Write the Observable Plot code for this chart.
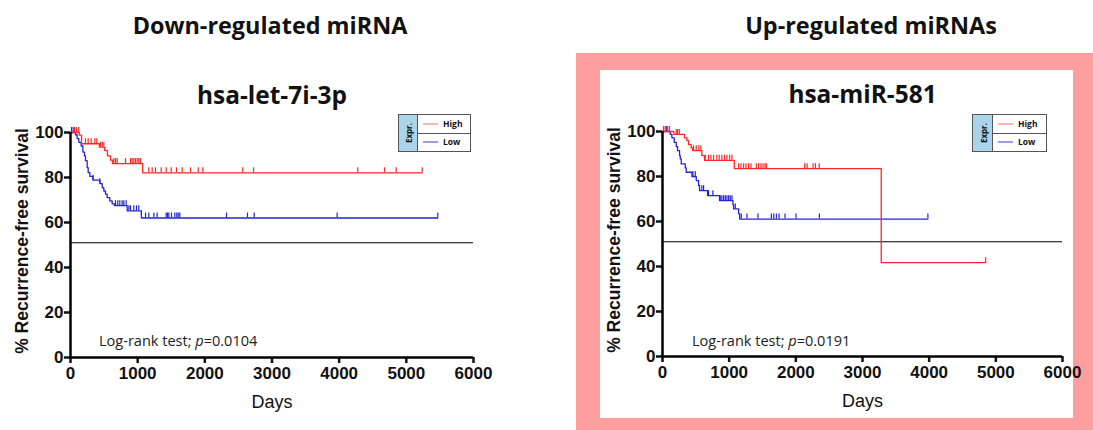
<!DOCTYPE html>
<html><head><meta charset="utf-8">
<script src="https://cdn.jsdelivr.net/npm/d3@7"></script>
<script src="https://cdn.jsdelivr.net/npm/@observablehq/plot@0.6"></script>
<style>
body{margin:0;background:#fff;}
#wrap{position:relative;width:1093px;height:430px;overflow:hidden;font-family:"Open Sans",sans-serif;color:#111;}
.abs{position:absolute;}
.ctr{position:absolute;white-space:nowrap;transform:translate(-50%,-50%);line-height:1;}
.plot{position:absolute;top:0;}
.legend{position:absolute;background:#fff;border:1.3px solid #555;box-sizing:border-box;font-family:"Open Sans",sans-serif;font-weight:700;font-size:8.5px;}
</style></head><body><div id="wrap"></div>
<script>
// ---------- data ----------
const panelTitles = ["Down-regulated miRNA", "Up-regulated miRNAs"];
const geneNames = ["hsa-let-7i-3p", "hsa-miR-581"];
const pValues = ["0.0104", "0.0191"];
const legendTitle = "Expr.";
const groupNames = ["High", "Low"];
const yLabel = "% Recurrence-free survival";
const xLabel = "Days";
const xTicks = [0, 1000, 2000, 3000, 4000, 5000, 6000];
const yTicks = [0, 20, 40, 60, 80, 100];
const referenceLine = 51;

// left panel: hsa-let-7i-3p
const leftHighTimes = [0, 130, 164, 430, 510, 550, 596, 625, 1075, 5236];
const leftHighSurv  = [100, 98.8, 95, 93.5, 92, 89.6, 87.7, 86.2, 82.1, 82.1];
const leftHighCensor = [60, 89, 124, 223, 263, 308, 362, 391, 447, 472, 496, 645, 670, 695, 819, 893, 918, 943, 968, 993, 1018, 1042,
  1166, 1216, 1266, 1350, 1425, 1499, 1578, 1663, 1787, 1902, 1970, 2565, 2725, 4277, 4675, 4849, 5236];
const leftLowTimes = [0, 74, 99, 124, 159, 184, 208, 223, 248, 263, 288, 333, 437, 472, 496, 521, 546, 585, 620, 655, 844, 1055, 5468];
const leftLowSurv  = [100, 99, 97.3, 95.6, 94, 91.3, 89.6, 87.5, 84.4, 82.2, 80.5, 78.8, 77.3, 75.5, 74, 72.6, 71.1, 69.6, 68.3, 67.5, 65.2, 62, 62];
const leftLowCensor = [15, 40, 337, 437, 670, 704, 734, 769, 794, 829, 869, 893, 943, 983, 1017,
  1117, 1166, 1241, 1290, 1424, 1444, 1464, 1504, 1553, 1583, 1603, 1627, 2323, 2635, 2735, 3970, 5468];

// right panel: hsa-miR-581
const rightHighTimes = [0, 170, 330, 366, 391, 431, 451, 591, 631, 1077, 3281, 4848];
const rightHighSurv  = [100, 98.7, 97.2, 96, 94.2, 92.7, 91.5, 89.3, 87.2, 83.5, 41.7, 41.7];
const rightHighCensor = [15, 41, 75, 105, 206, 226, 251, 466, 506, 546, 576, 641, 691, 726, 766, 816, 851, 891, 931, 967, 1007, 1042,
  1142, 1177, 1217, 1252, 1292, 1327, 1407, 1442, 1478, 1508, 1538, 1558, 2133, 2169, 2259, 2294, 2350, 4848];
const rightLowTimes = [0, 116, 141, 176, 206, 226, 256, 266, 281, 341, 356, 441, 506, 541, 556, 676, 856, 1057, 1067, 1142, 1157, 3981];
const rightLowSurv  = [100, 98.7, 97.2, 95.2, 93.3, 91.5, 89.3, 87.8, 85.6, 83.8, 81.9, 80, 78.2, 76, 73.7, 71.5, 69.3, 67.5, 65.6, 63.4, 61.1, 61.1];
const rightLowCensor = [56, 75, 456, 491, 591, 616, 691, 756, 866, 891, 917, 942, 967, 992, 1017, 1042, 1092,
  1182, 1267, 1432, 1633, 1668, 1708, 1748, 1838, 2003, 2353, 3981];

const red = "#ff2626", blue = "#2323dc";

// ---------- helpers ----------
const canvas = document.createElement("canvas").getContext("2d");
function fitSize(text, family, weight, target, style = "normal") {
  canvas.font = `${style} ${weight} 100px ${family}`;
  return 100 * target / canvas.measureText(text).width;
}
function survAt(times, surv, t) {
  let s = surv[0];
  for (let i = 0; i < times.length; i++) if (times[i] <= t) s = surv[i];
  return s;
}

function km({width, ml, mr, mt, mb, name, nameSize, high, low}) {
  const hd = high.times.map((t, i) => ({t, s: high.surv[i]}));
  const ld = low.times.map((t, i) => ({t, s: low.surv[i]}));
  const hc = high.censor.map(t => ({t, s: survAt(high.times, high.surv, t)}));
  const lc = low.censor.map(t => ({t, s: survAt(low.times, low.surv, t)}));
  return Plot.plot({
    width, height: 430, marginLeft: ml, marginRight: mr, marginTop: mt, marginBottom: mb,
    x: {domain: [0, 6000]},
    y: {domain: [0, 100]},
    style: {background: "transparent", fontFamily: "'Liberation Sans Narrow', 'Liberation Sans', sans-serif",
            fontSize: "17px", fontWeight: "bold", color: "#111", overflow: "visible"},
    marks: [
      Plot.ruleY([referenceLine], {stroke: "#000", strokeWidth: 1.2}),
      Plot.line(ld, {x: "t", y: "s", curve: "step-after", stroke: blue, strokeWidth: 1.3}),
      Plot.ruleX(lc, {x: "t", y1: "s", y2: d => d.s + 2.2, stroke: blue, strokeWidth: 1.2}),
      Plot.line(hd, {x: "t", y: "s", curve: "step-after", stroke: red, strokeWidth: 1.3}),
      Plot.ruleX(hc, {x: "t", y1: "s", y2: d => d.s + 2.2, stroke: red, strokeWidth: 1.2}),
      Plot.axisY({ticks: yTicks, tickSize: 6, tickPadding: 1, strokeWidth: 2.5, label: null}),
      Plot.axisX({ticks: xTicks, tickSize: 6, tickPadding: 3, strokeWidth: 2.5, label: null, tickFormat: d => String(d)}),
      Plot.ruleX([0], {stroke: "#000", strokeWidth: 2.5}),
      Plot.ruleY([0], {stroke: "#000", strokeWidth: 2.5}),
      Plot.text([yLabel], {text: d => d, frameAnchor: "left", textAnchor: "middle", dx: -48, dy: -4, rotate: -90, lineAnchor: "middle",
        fontSize: 17.5, fontFamily: "'Liberation Sans', Arial, sans-serif", fontWeight: "bold", fill: "#111"}),
      Plot.text([xLabel], {text: d => d, frameAnchor: "bottom", dy: 45, lineAnchor: "middle",
        fontSize: 18, fontFamily: "'Liberation Sans', Arial, sans-serif", fontWeight: "normal", fill: "#111"}),
      Plot.text([name], {text: d => d, frameAnchor: "top", dy: -36, lineAnchor: "middle",
        fontSize: nameSize, fontFamily: "'Open Sans', sans-serif", fontWeight: "bold", fill: "#111"})
    ]
  });
}

const wrap = document.getElementById("wrap");
function addDiv(cls, css, html) {
  const d = document.createElement("div");
  d.className = cls; d.style.cssText = css; if (html != null) d.innerHTML = html;
  wrap.appendChild(d); return d;
}

// pink frame for right panel
addDiv("abs", "left:576px;top:53px;width:517px;height:377px;background:#ff9e9e;");
addDiv("abs", "left:600px;top:70px;width:473px;height:348px;background:#fff;");

// main titles
const titleFont = "'Open Sans', sans-serif";
const t1 = fitSize(panelTitles[0], titleFont, 700, 275);
addDiv("ctr", `left:270px;top:26px;font-size:${t1}px;font-weight:700;`, panelTitles[0]);
addDiv("ctr", `left:871px;top:26px;font-size:${t1}px;font-weight:700;`, panelTitles[1]);

const nameSize = fitSize(geneNames[0], titleFont, 700, 150);

const left = km({width: 540, ml: 70, mr: 67, mt: 132, mb: 73, name: geneNames[0], nameSize,
  high: {times: leftHighTimes, surv: leftHighSurv, censor: leftHighCensor},
  low: {times: leftLowTimes, surv: leftLowSurv, censor: leftLowCensor}});
left.classList.add("plot"); left.style.left = "0px";
wrap.appendChild(left);

const right = km({width: 513, ml: 82, mr: 31, mt: 131, mb: 74, name: geneNames[1], nameSize,
  high: {times: rightHighTimes, surv: rightHighSurv, censor: rightHighCensor},
  low: {times: rightLowTimes, surv: rightLowSurv, censor: rightLowCensor}});
right.classList.add("plot"); right.style.left = "580px";
wrap.appendChild(right);

// log-rank annotations
const lrText = "Log-rank test; p=" + pValues[0];
const lrSize = fitSize(lrText, "'Open Sans', sans-serif", 400, 159);
[[99, pValues[0]], [692, pValues[1]]].forEach(([x, p]) => {
  addDiv("abs", `left:${x}px;top:${341 - lrSize * 0.68}px;font-size:${lrSize}px;line-height:1.36;white-space:nowrap;color:#222;`,
    `Log-rank test; <i>p</i>=${p}`);
});

// legends
function legend(x, y, w, h, cw) {
  const box = addDiv("legend", `left:${x}px;top:${y}px;width:${w}px;height:${h}px;`);
  const cell = document.createElement("div");
  cell.style.cssText = `position:absolute;left:0;top:0;width:${cw}px;height:100%;background:#a9d4ea;border-right:1.3px solid #555;box-sizing:border-box;`;
  cell.innerHTML = `<div style="position:absolute;left:50%;top:50%;transform:translate(-50%,-50%) rotate(-90deg);white-space:nowrap;font-size:8px;">${legendTitle}</div>`;
  box.appendChild(cell);
  const div = document.createElement("div");
  div.style.cssText = `position:absolute;left:${cw}px;right:0;top:50%;border-top:1.3px solid #555;`;
  box.appendChild(div);
  [[groupNames[0], "#ff6a6a", 25], [groupNames[1], "#3a3ae0", 75]].forEach(([lab, col, pct]) => {
    const sw = document.createElement("div");
    sw.style.cssText = `position:absolute;left:${cw + 5}px;top:${pct}%;width:15px;border-top:1.5px solid ${col};transform:translateY(-50%);`;
    box.appendChild(sw);
    const tx = document.createElement("div");
    tx.style.cssText = `position:absolute;left:${cw + 25}px;top:${pct}%;transform:translateY(-50%);line-height:1;`;
    tx.textContent = lab;
    box.appendChild(tx);
  });
}
legend(398, 114, 73, 38, 19);
legend(972, 114, 75, 38, 20);
</script></body></html>
